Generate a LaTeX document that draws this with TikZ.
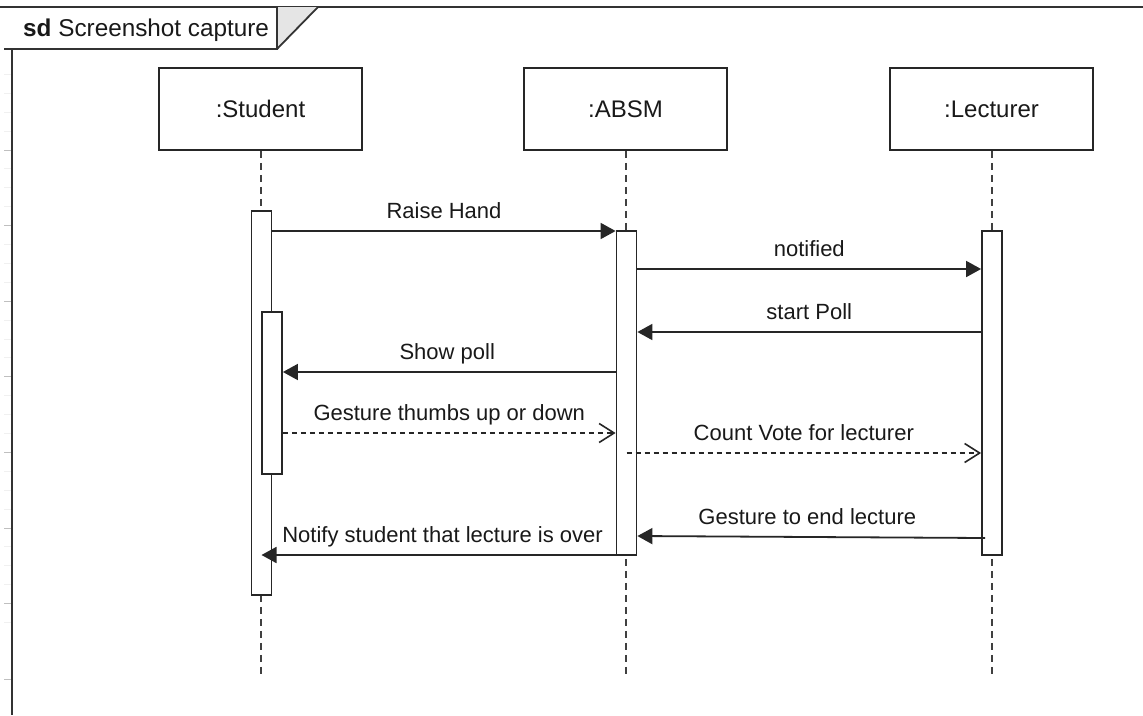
\documentclass[tikz,border=0pt]{standalone}
\usepackage{fontspec}
\setmainfont{Liberation Sans}
\usetikzlibrary{arrows.meta,calc}
\begin{document}
\begin{tikzpicture}[x=1pt,y=-1pt,
  every node/.style={font=\fontsize{22}{26}\selectfont, text=black!90},
  frameline/.style={draw=black!80, line width=1.8pt},
  headbox/.style={draw=black!85, line width=1.8pt, fill=white, minimum width=203pt, minimum height=82pt, inner sep=0pt, font=\fontsize{24}{28}\selectfont},
  actbox/.style={draw=black!85, line width=1.8pt, fill=white, minimum width=20pt, inner sep=0pt},
  lifeline/.style={draw=black!75, line width=1.8pt, dash pattern=on 7pt off 5pt},
  syncmsg/.style={draw=black!85, line width=1.8pt, -{Triangle[length=15pt,width=16pt]}},
  replymsg/.style={draw=black!85, line width=1.6pt, dash pattern=on 5pt off 4pt, -{Straight Barb[length=15pt,width=19pt,line width=1.6pt]}},
  msglabel/.style={anchor=base, inner sep=0pt}
]
\useasboundingbox (0,0) rectangle (1143,715);
\fill[white] (0,0) rectangle (1143,715);

% faint grid ticks along the left margin
\foreach \k in {0,...,29} {
  \draw[black!6, line width=1pt] (4,{150+18.9*(\k-4)}) -- (12,{150+18.9*(\k-4)});
}
\foreach \k in {0,...,7} {
  \draw[black!25, line width=1pt] (4,{150+75.6*\k}) -- (12,{150+75.6*\k});
}

% sequence frame with its name tab
\draw[frameline] (0,7) -- (1143,7);
\draw[frameline] (12,49) -- (12,715);
\fill[black!10] (277,7) -- (318,7) -- (277,49) -- cycle;
\draw[frameline] (4,49) -- (277,49) -- (277,7);
\draw[frameline] (277,49) -- (318,7);
\node[anchor=base west, inner sep=0pt, font=\fontsize{24.3}{28}\selectfont] (title) at (23,36) {\textbf{sd} Screenshot capture};

% lifeline heads
\node[headbox] (student) at (260.5,109) {\raisebox{-1pt}{:Student}};
\node[headbox] (absm) at (625.5,109) {\raisebox{-1pt}{:ABSM}};
\node[headbox] (lecturer) at (991.5,109) {\raisebox{-1pt}{:Lecturer}};

% lifelines
\coordinate (stuEnd) at (261,678);
\coordinate (absmEnd) at (626,678);
\coordinate (lecEnd) at (992,678);
\draw[lifeline] (student.south -| stuEnd) -- (stuEnd);
\draw[lifeline] (absm.south -| absmEnd) -- (absmEnd);
\draw[lifeline] (lecturer.south -| lecEnd) -- (lecEnd);

% activation bars
\node[actbox, minimum height=384pt] (sact) at (261.5,403) {};
\node[actbox, minimum height=162pt] (snest) at (272,393) {};
\node[actbox, minimum height=324pt] (aact) at (626.5,393) {};
\node[actbox, minimum height=324pt] (lact) at (992,393) {};

% messages
\draw[syncmsg] (sact.east |- 0,231) -- node[msglabel, yshift=12.5pt] (m1) {Raise Hand} (aact.west |- 0,231);
\draw[syncmsg] (aact.east |- 0,269) -- node[msglabel, yshift=12.5pt] (m2) {notified} (lact.west |- 0,269);
\draw[syncmsg] (lact.west |- 0,332) -- node[msglabel, yshift=12.5pt] (m3) {start Poll} (aact.east |- 0,332);
\draw[syncmsg] (aact.west |- 0,372) -- node[msglabel, yshift=12.5pt, xshift=-2pt] (m4) {Show poll} (snest.east |- 0,372);
\draw[replymsg] (snest.east |- 0,433) -- node[msglabel, yshift=12.5pt] (m5) {Gesture thumbs up or down} (aact.west |- 0,433);
\draw[replymsg] (aact.center |- 0,453) -- node[msglabel, yshift=12.5pt] (m6) {Count Vote for lecturer} (lact.west |- 0,453);
\draw[syncmsg] ($(lact.west |- 0,538)+(4,0)$) -- node[msglabel, yshift=12.5pt, xshift=-4pt] (m7) {Gesture to end lecture} (aact.east |- 0,536);
\draw[syncmsg] (aact.west |- 0,555) -- node[msglabel, yshift=12.5pt, xshift=4pt] (m8) {Notify student that lecture is over} (sact.center |- 0,555);
\end{tikzpicture}
\end{document}
